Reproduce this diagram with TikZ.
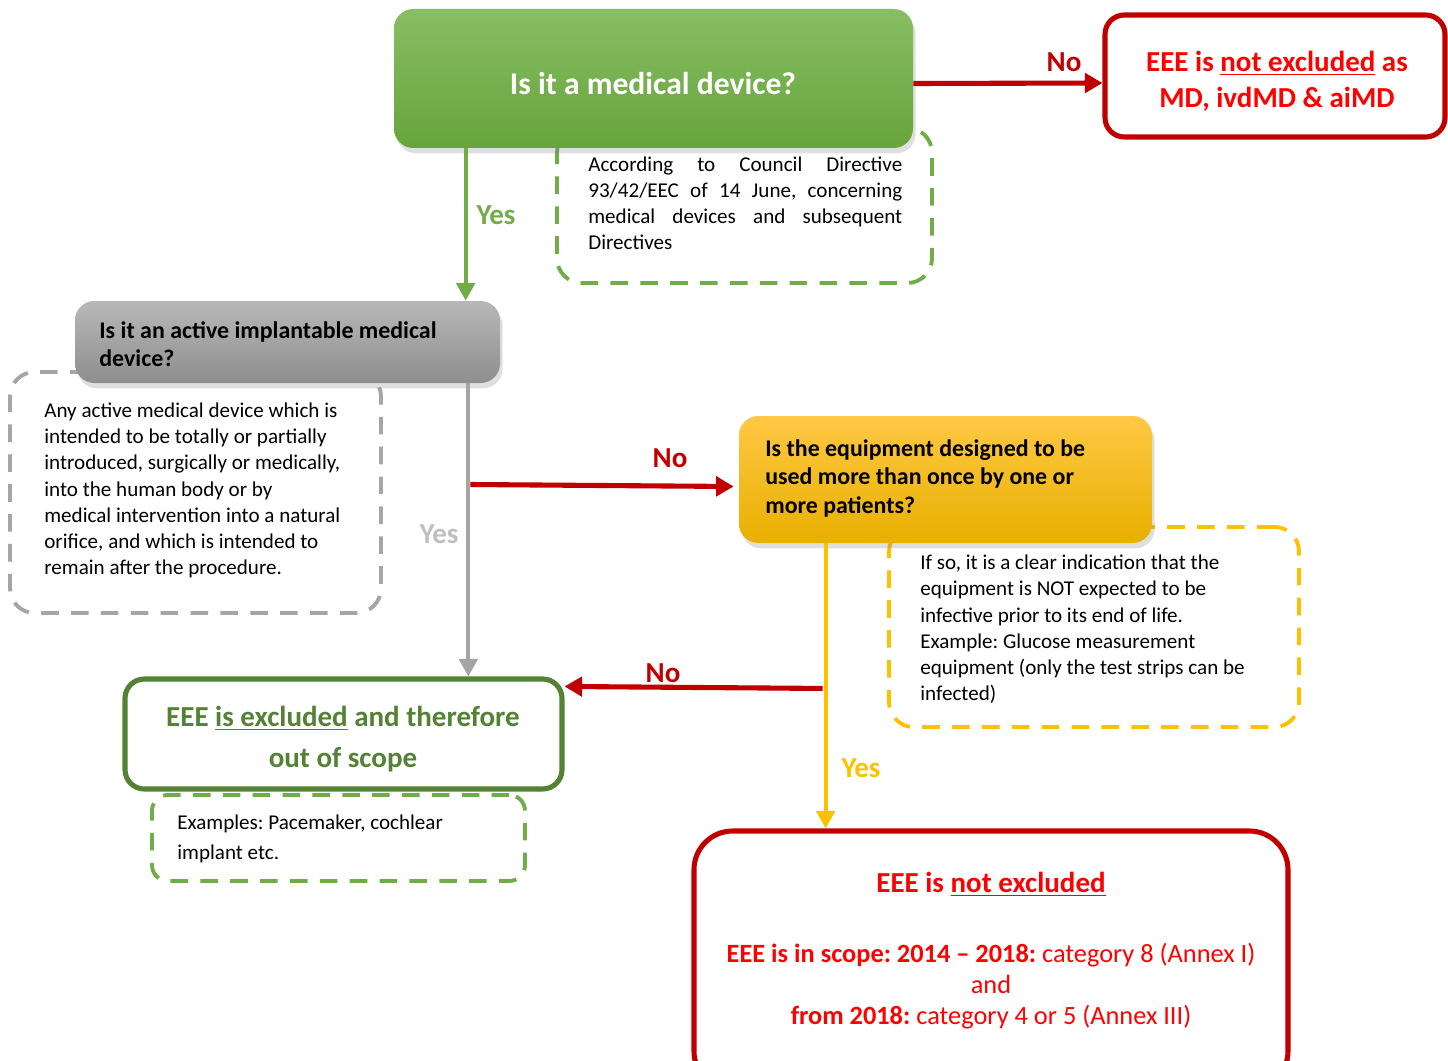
\documentclass[tikz,border=0pt]{standalone}
\usepackage{fontspec}
\setmainfont{Carlito}
\usetikzlibrary{shadows,calc,arrows.meta,fit}
\definecolor{mdtop}{HTML}{88BE64}
\definecolor{mdbot}{HTML}{67A43A}
\definecolor{graytop}{HTML}{B8B8B8}
\definecolor{graybot}{HTML}{8E8E8E}
\definecolor{yeltop}{HTML}{FFC845}
\definecolor{yelbot}{HTML}{E8B000}
\definecolor{darkred}{HTML}{C00000}
\definecolor{brightred}{HTML}{FF0000}
\definecolor{lgreen}{HTML}{70AD47}
\definecolor{dgreen}{HTML}{548235}
\definecolor{gyellow}{HTML}{FFC000}
\definecolor{lgray}{HTML}{A5A5A5}
\definecolor{yesgray}{HTML}{BFBFBF}
\frenchspacing
\begin{document}
\begin{tikzpicture}[x=0.02cm,y=-0.02cm,
  shadowbox/.style={inner sep=0pt, rounded corners=11pt,
    drop shadow={opacity=0.25, shadow xshift=1.5pt, shadow yshift=-3pt}},
  outbox/.style={inner sep=0pt, draw, fill=white, line width=2.9pt, rounded corners=11pt},
  dashbox/.style={inner sep=0pt, draw, line width=2.2pt, dash pattern=on 10pt off 7pt, rounded corners=14pt},
  notetext/.style={anchor=north west, inner sep=0pt, align=left, text=black, font=\fontsize{12}{14.8}\selectfont},
  qtext/.style={anchor=north west, inner sep=0pt, align=left, text=black, font=\fontsize{13.6}{16.3}\selectfont\bfseries},
  conn/.style={line width=2.3pt, -{Triangle[length=10pt,width=10.5pt]}},
  redconn/.style={line width=2.9pt, draw=darkred, -{Triangle[length=10pt,width=11pt]}},
  lab/.style={font=\fontsize{16.5}{18}\selectfont\bfseries, inner sep=0pt}
]
\useasboundingbox (0,0) rectangle (1448,1061);

% ---------- dashed note boxes (behind) ----------
\node[dashbox, draw=lgreen, fit={(557,128)(932,283)}] (mdnote) {};
\node[notetext] (mdnotetext) at (588,157) {%
  \makebox[6.28cm][s]{According to Council Directive}\\
  \makebox[6.28cm][s]{93/42/EEC of 14 June, concerning}\\
  \makebox[6.28cm][s]{medical devices and subsequent}\\
  Directives};

\node[dashbox, draw=lgray, fit={(10,372)(381,613)}] (aimdnote) {};
\node[notetext] (aimdnotetext) at (44,403) {%
  Any active medical device which is\\
  intended to be totally or partially\\
  introduced, surgically or medically,\\
  into the human body or by\\
  medical intervention into a natural\\
  orifice, and which is intended to\\
  remain after the procedure.};

\node[dashbox, draw=gyellow, fit={(889,527)(1299,727)}] (reusenote) {};
\node[notetext] (reusenotetext) at (920,555) {%
  If so, it is a clear indication that the\\
  equipment is NOT expected to be\\
  infective prior to its end of life.\\
  Example: Glucose measurement\\
  equipment (only the test strips can be\\
  infected)};

\node[dashbox, draw=lgreen, rounded corners=9pt, fit={(152,795)(525,881)}] (exclnote) {};
\node[notetext, font=\fontsize{12}{17}\selectfont] (exclnotetext) at (177,815) {%
  Examples: Pacemaker, cochlear\\
  implant etc.};

% ---------- main boxes ----------
\node[shadowbox, top color=mdtop, bottom color=mdbot, fit={(394,9)(913,148)}] (md) {};
\node[text=white, inner sep=0pt, font=\fontsize{18}{20}\selectfont\bfseries] (mdtext) at (653,84) {Is it a medical device?};

\node[outbox, draw=darkred, fit={(1105,15)(1445,137)}] (nmd) {};
\node[text=brightred, align=center, inner sep=0pt, font=\fontsize{16.5}{20.4}\selectfont\bfseries] (nmdtext) at (1277,81.5)
      {EEE is \underline{not excluded} as\\MD, ivdMD \& aiMD};

\node[shadowbox, top color=graytop, bottom color=graybot, fit={(75,301)(500,383)}] (aimd) {};
\node[qtext, font=\fontsize{13.6}{15.9}\selectfont\bfseries] (aimdtext) at (99,321) {Is it an active implantable medical\\device?};

\node[shadowbox, top color=yeltop, bottom color=yelbot, fit={(739,416)(1152,543)}] (reuse) {};
\node[qtext] (reusetext) at (765,439) {Is the equipment designed to be\\used more than once by one or\\more patients?};

\node[outbox, draw=dgreen, fit={(125,679)(562,789)}] (excl) {};
\node[text=dgreen, align=center, inner sep=0pt, font=\fontsize{16.5}{23.2}\selectfont\bfseries] (excltext) at (343,739)
      {EEE \underline{is excluded} and therefore\\out of scope};

\node[outbox, draw=darkred, rounded corners=22pt, fit={(694,831)(1288,1090)}] (notexcl) {};
\node[text=brightred, inner sep=0pt, font=\fontsize{16.5}{18}\selectfont\bfseries] (notexclhead) at (991,884)
  {EEE is \underline{not excluded}};
\node[align=center, text=brightred, inner sep=0pt, font=\fontsize{15}{17.6}\selectfont] (notexcltext) at (991,986)
  {\textbf{EEE is in scope: 2014 – 2018:} category 8 (Annex I)\\
   and\\
   \textbf{from 2018:} category 4 or 5 (Annex III)};

% ---------- connectors ----------
\draw[redconn] ($(md.east)+(0,5)$) -- ($(nmd.west)+(0,7)$);
\node[lab, text=darkred] (no1) at (1064,62) {No};

\coordinate (mdout) at ($(md.south west)+(72,0)$);
\draw[conn, draw=lgreen] (mdout) -- (mdout |- aimd.north);
\node[lab, text=lgreen] (yes1) at (496,215) {Yes};

\coordinate (aimdout) at ($(aimd.south east)+(-32,0)$);
\draw[conn, draw=lgray] (aimdout) -- (aimdout |- excl.north);
\node[lab, text=yesgray] (yes2) at (439,534) {Yes};

\coordinate (nobranch) at ($(aimdout |- reuse.west)+(2,5)$);
\draw[redconn] (nobranch) -- ($(reuse.west)+(-5,7)$);
\node[lab, text=darkred] (no2) at (670,458) {No};

\coordinate (reuseout) at ($(reuse.south west)+(87,0)$);
\draw[conn, draw=gyellow] (reuseout) -- (reuseout |- notexcl.north);
\node[lab, text=gyellow] (yes3) at (861,768) {Yes};

\coordinate (nobranch2) at ($(reuseout |- excl.north)+(-3,12)$);
\draw[redconn] (nobranch2) -- ($(excl.north east)+(0,10)$);
\node[lab, text=darkred] (no3) at (663,673) {No};
\end{tikzpicture}
\end{document}
